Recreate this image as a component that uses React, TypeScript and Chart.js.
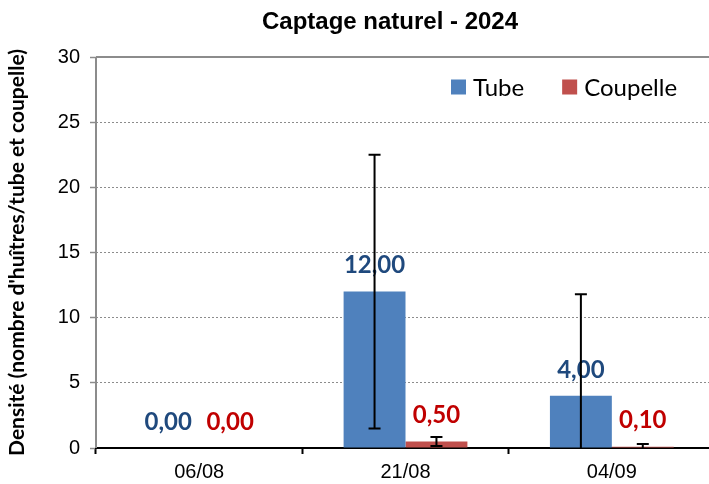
import React, { useEffect, useRef } from "react";
import { Chart, registerables } from "chart.js";

Chart.register(...registerables);

const categories = ["06/08", "21/08", "04/09"];
const tubeValues = [0, 12, 4];
const coupelleValues = [0, 0.5, 0.1];
const tubeErrors = [0, 10.5, 7.8];
const coupelleErrors = [0, 0.35, 0.2];
const seriesNames = ["Tube", "Coupelle"];
const titleText = "Captage naturel - 2024";
const yTitle = "Densité (nombre d'huîtres/tube et coupelle)";

const BLUE = "#4F81BD";
const RED = "#C0504D";
const LABEL_BLUE = "#1F497D";
const LABEL_RED = "#C00000";
const GRAY = "#8C8C8C";
const CAL = "Lato, 'Noto Sans', sans-serif";
const ARIAL = "'Liberation Sans', Arial, sans-serif";

const errorsBySeries = [tubeErrors, coupelleErrors];
const labelColors = [LABEL_BLUE, LABEL_RED];

const decorPlugin = {
  id: "decor",
  beforeDatasetsDraw(chart: any) {
    const { ctx, chartArea } = chart;
    ctx.save();
    ctx.strokeStyle = GRAY;
    ctx.lineWidth = 2;
    ctx.beginPath();
    ctx.moveTo(chartArea.left, chartArea.top);
    ctx.lineTo(chartArea.right, chartArea.top);
    ctx.moveTo(chartArea.left, chartArea.top);
    ctx.lineTo(chartArea.left, chartArea.bottom);
    ctx.stroke();
    ctx.restore();
  },
  afterDatasetsDraw(chart: any) {
    const { ctx, chartArea } = chart;
    const yScale = chart.scales.y;
    // data labels
    chart.data.datasets.forEach((ds: any, i: number) => {
      const meta = chart.getDatasetMeta(i);
      meta.data.forEach((el: any, j: number) => {
        const v = ds.data[j];
        ctx.save();
        ctx.font = `bold 24px ${CAL}`;
        ctx.fillStyle = labelColors[i];
        ctx.textAlign = "center";
        ctx.textBaseline = "middle";
        ctx.fillText(v.toFixed(2).replace(".", ","), el.x, el.y - 26);
        ctx.restore();
      });
    });
    // error bars
    ctx.save();
    ctx.beginPath();
    ctx.rect(chartArea.left, chartArea.top - 20, chartArea.right - chartArea.left, chartArea.bottom - chartArea.top + 20);
    ctx.clip();
    chart.data.datasets.forEach((ds: any, i: number) => {
      const meta = chart.getDatasetMeta(i);
      meta.data.forEach((el: any, j: number) => {
        const v = ds.data[j];
        const e = errorsBySeries[i][j];
        const yt = yScale.getPixelForValue(v + e);
        const yb = Math.min(yScale.getPixelForValue(v - e), chartArea.bottom + 0.01);
        const lowerClipped = v - e < 0;
        ctx.strokeStyle = "#000";
        ctx.lineWidth = 2;
        ctx.beginPath();
        ctx.moveTo(el.x, yt);
        ctx.lineTo(el.x, yb);
        ctx.moveTo(el.x - 6, yt);
        ctx.lineTo(el.x + 6, yt);
        if (!lowerClipped) {
          ctx.moveTo(el.x - 6, yb);
          ctx.lineTo(el.x + 6, yb);
        }
        ctx.stroke();
      });
    });
    ctx.restore();
  },
  afterDraw(chart: any) {
    const { ctx } = chart;
    // title
    ctx.save();
    ctx.font = `bold 24px ${ARIAL}`;
    ctx.fillStyle = "#000";
    ctx.textAlign = "center";
    ctx.textBaseline = "middle";
    ctx.fillText(titleText, 390, 22);
    ctx.restore();
    // legend
    ctx.save();
    ctx.font = `24px ${CAL}`;
    ctx.textBaseline = "middle";
    let x = 451;
    const y = 87;
    chart.data.datasets.forEach((ds: any) => {
      ctx.fillStyle = ds.backgroundColor;
      ctx.fillRect(x, y - 7.5, 15, 15);
      ctx.fillStyle = "#000";
      ctx.textAlign = "left";
      ctx.fillText(ds.label, x + 22, y + 1);
      x += 22 + ctx.measureText(ds.label).width + 38;
    });
    ctx.restore();
  },
};

export default function App() {
  const ref = useRef<HTMLCanvasElement>(null);
  useEffect(() => {
    document.body.style.margin = "0";
    document.documentElement.style.overflow = "hidden";
    document.body.style.overflow = "hidden";
    const chart = new Chart(ref.current as HTMLCanvasElement, {
      type: "bar",
      data: {
        labels: categories,
        datasets: [
          { label: seriesNames[0], data: tubeValues, backgroundColor: BLUE, categoryPercentage: 0.6, barPercentage: 1.0 },
          { label: seriesNames[1], data: coupelleValues, backgroundColor: RED, categoryPercentage: 0.6, barPercentage: 1.0 },
        ],
      },
      options: {
        responsive: false,
        animation: false,
        layout: { padding: { top: 57, right: 5, left: 0, bottom: 0 } },
        plugins: { legend: { display: false }, title: { display: false }, tooltip: { enabled: false } },
        scales: {
          x: {
            grid: { offset: true, drawOnChartArea: false, drawTicks: true, tickLength: 6, tickColor: "#000", tickWidth: 2 },
            border: { color: "#000", width: 2 },
            ticks: { color: "#000", font: { family: ARIAL, size: 20 }, padding: 6 },
            afterFit(scale: any) { scale.height = 36; },
          },
          y: {
            min: 0,
            max: 30,
            ticks: { stepSize: 5, color: "#000", font: { family: ARIAL, size: 20 }, padding: 10 },
            grid: {
              color: (c: any) => (c.tick && (c.tick.value === 0 || c.tick.value === 30) ? "rgba(0,0,0,0)" : GRAY),
              lineWidth: 1,
              drawTicks: true,
              tickLength: 6,
              tickColor: GRAY,
              tickWidth: 1.5,
            },
            border: { display: false, dash: [2, 2] },
            title: { display: true, text: yTitle, color: "#000", font: { family: CAL, size: 21, weight: "bold" }, padding: { top: 5, bottom: 0 } },
            afterFit(scale: any) { scale.width = 96; },
          },
        },
      },
      plugins: [decorPlugin],
    } as any);
    return () => chart.destroy();
  }, []);
  return (
    <div style={{ position: "absolute", left: 0, top: 0, width: 720, height: 484 }}>
      <canvas ref={ref} width={720} height={484} style={{ display: "block" }} />
    </div>
  );
}
